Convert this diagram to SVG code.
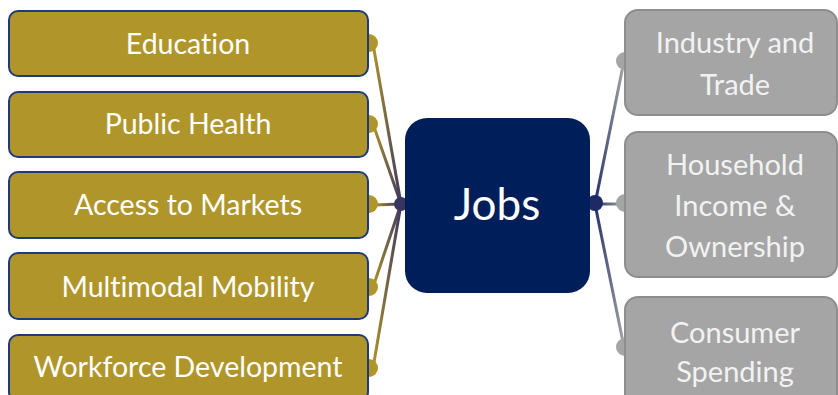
<svg xmlns="http://www.w3.org/2000/svg" width="838" height="395" viewBox="0 0 838 395">
  <defs>
    <linearGradient id="gl" gradientUnits="userSpaceOnUse" x1="372" y1="0" x2="402" y2="0">
      <stop offset="0" stop-color="#B0962A"/>
      <stop offset="1" stop-color="#3A3560"/>
    </linearGradient>
    <linearGradient id="gr" gradientUnits="userSpaceOnUse" x1="594" y1="0" x2="624" y2="0">
      <stop offset="0" stop-color="#232E66"/>
      <stop offset="1" stop-color="#A5A5A5"/>
    </linearGradient>
    <style>
      .gold { fill: #B0962A; stroke: #1F3A7A; stroke-width: 2; }
      .gray { fill: #A5A5A5; stroke: #8E8E8E; stroke-width: 2; }
      .lt { fill: #FFFFFF; font-family: Lato, "Liberation Sans", sans-serif; font-size: 28.5px; text-anchor: middle; font-variant-ligatures: none; }
      .rt { fill: #F2F2F2; font-family: Lato, "Liberation Sans", sans-serif; font-size: 29px; text-anchor: middle; font-variant-ligatures: none; }
      .cl { stroke: url(#gl); stroke-width: 3; fill: none; }
      .cr { stroke: url(#gr); stroke-width: 3; fill: none; }
    </style>
  </defs>
  <rect width="838" height="395" fill="#FFFFFF"/>
  <g id="connectors">
    <path class="cl" d="M373 44 L401 204"/>
    <path class="cl" d="M373 124 L401 204"/>
    <path class="cl" d="M373 205 L401 204"/>
    <path class="cl" d="M373 287 L401 204"/>
    <path class="cl" d="M373 368 L401 204"/>
    <circle cx="369" cy="43" r="9" fill="#B0962A"/>
    <circle cx="369" cy="124" r="9" fill="#B0962A"/>
    <circle cx="369" cy="204" r="9" fill="#B0962A"/>
    <circle cx="369" cy="287" r="9" fill="#B0962A"/>
    <circle cx="369" cy="368" r="9" fill="#B0962A"/>
    <circle cx="401" cy="204" r="7" fill="#3A3560"/>
    <path class="cr" d="M595 204 L624 61"/>
    <path class="cr" d="M595 204 L624 204"/>
    <path class="cr" d="M595 204 L624 347"/>
    <circle cx="595" cy="203" r="8" fill="#1E2A63"/>
    <circle cx="625" cy="61" r="9" fill="#A5A5A5"/>
    <circle cx="625" cy="203" r="9" fill="#A5A5A5"/>
    <circle cx="625" cy="347" r="9" fill="#A5A5A5"/>
  </g>
  <g id="education">
    <rect class="gold" x="9" y="11" width="359" height="65" rx="9"/>
    <text class="lt" x="188" y="54">Education</text>
  </g>
  <g id="public-health">
    <rect class="gold" x="9" y="92" width="359" height="65" rx="9"/>
    <text class="lt" x="188" y="134">Public Health</text>
  </g>
  <g id="access-to-markets">
    <rect class="gold" x="9" y="172" width="359" height="66" rx="9"/>
    <text class="lt" x="188" y="215">Access to Markets</text>
  </g>
  <g id="multimodal-mobility">
    <rect class="gold" x="9" y="253" width="359" height="66" rx="9"/>
    <text class="lt" x="188" y="297">Multimodal Mobility</text>
  </g>
  <g id="workforce-development">
    <rect class="gold" x="9" y="335" width="359" height="66" rx="9"/>
    <text class="lt" x="188" y="377">Workforce Development</text>
  </g>
  <g id="jobs">
    <rect x="405" y="118" width="185" height="175" rx="22" fill="#001E5A"/>
    <text x="497" y="220" fill="#FFFFFF" font-family="Lato, 'Liberation Sans', sans-serif" font-size="44" text-anchor="middle">Jobs</text>
  </g>
  <g id="industry-and-trade">
    <rect class="gray" x="625" y="10" width="212" height="105" rx="13"/>
    <text class="rt" x="735" y="53">Industry and</text>
    <text class="rt" x="735" y="95">Trade</text>
  </g>
  <g id="household-income">
    <rect class="gray" x="625" y="132" width="212" height="145" rx="13"/>
    <text class="rt" x="735" y="175">Household</text>
    <text class="rt" x="735" y="216">Income &amp;</text>
    <text class="rt" x="735" y="257">Ownership</text>
  </g>
  <g id="consumer-spending">
    <rect class="gray" x="625" y="297" width="212" height="110" rx="13"/>
    <text class="rt" x="735" y="343">Consumer</text>
    <text class="rt" x="735" y="382">Spending</text>
  </g>
</svg>
